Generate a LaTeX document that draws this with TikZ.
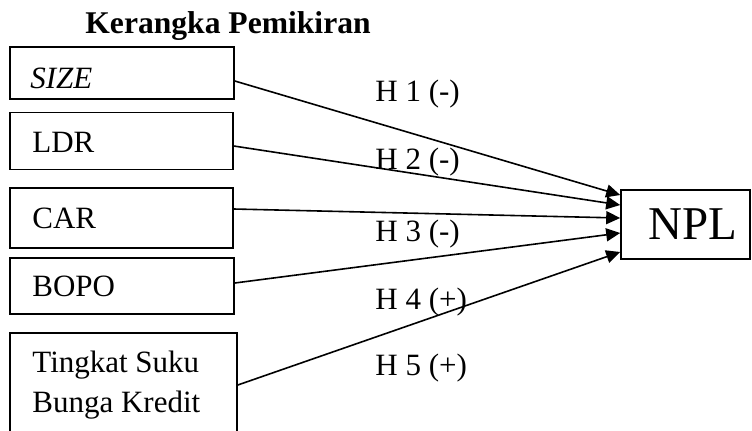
\documentclass[tikz,border=0pt]{standalone}
\usepackage{fontspec}
\setmainfont{Liberation Serif}
\usetikzlibrary{arrows.meta,calc}
\begin{document}
\begin{tikzpicture}[x=0.5pt,y=-0.5pt,
  box/.style={draw,line width=0.8pt,rectangle,inner sep=0pt,minimum width=112pt},
  txt/.style={inner sep=0pt,anchor=base west,font=\fontsize{15.5}{20}\selectfont},
  link/.style={line width=0.8pt,-{Triangle[length=7pt,width=6.5pt]}}]
\useasboundingbox (0,0) rectangle (752,430);
\clip (0,0) rectangle (752,430);

% title
\node[txt,font=\fontsize{15.8}{19}\selectfont\bfseries] (title) at (85,33) {Kerangka Pemikiran};

% independent variables
\node[box,minimum height=26pt] (size) at (122,73) {};
\node[box,minimum width=111.5pt,minimum height=28.5pt] (ldr) at (121.5,141) {};
\node[box,minimum width=111.5pt,minimum height=30pt] (car) at (121.5,218) {};
\node[box,minimum height=28pt] (bopo) at (122,286) {};
\node[box,minimum width=113.5pt,minimum height=58.5pt] (suku) at (123.5,391.5) {};

\node[txt] (tsize) at (30,88) {\textit{SIZE}};
\node[txt] (tldr) at (32,152) {LDR};
\node[txt] (tcar) at (32,228) {CAR};
\node[txt] (tbopo) at (32,296) {BOPO};
\node[txt] (tsuku1) at (32,372) {Tingkat Suku};
\node[txt] (tsuku2) at (32,412) {Bunga Kredit};

% dependent variable
\node[box,minimum width=64.5pt,minimum height=34.5pt,inner xsep=6.5pt,
      text width=51.5pt,align=right,font=\fontsize{23.5}{28}\selectfont] (npl) at (685.5,224.5) {NPL};

% hypotheses
\draw[link] ($(size.east)+(0,8)$) -- ($(npl.west)+(0,-29.5)$);
\draw[link] ($(ldr.east)+(0,5)$) -- ($(npl.west)+(0,-19.5)$);
\draw[link] ($(car.east)+(0,-9)$) -- ($(npl.west)+(0,-6.5)$);
\draw[link] ($(bopo.east)+(0,-3)$) -- ($(npl.west)+(0,8.5)$);
\draw[link] ($(suku.east)+(0,-6.5)$) -- ($(npl.west)+(0,27.5)$);

\node[txt] (h1) at (375,101) {H 1 (-)};
\node[txt] (h2) at (375,169) {H 2 (-)};
\node[txt] (h3) at (375,241) {H 3 (-)};
\node[txt] (h4) at (375,309) {H 4 (+)};
\node[txt] (h5) at (375,375) {H 5 (+)};
\end{tikzpicture}
\end{document}
